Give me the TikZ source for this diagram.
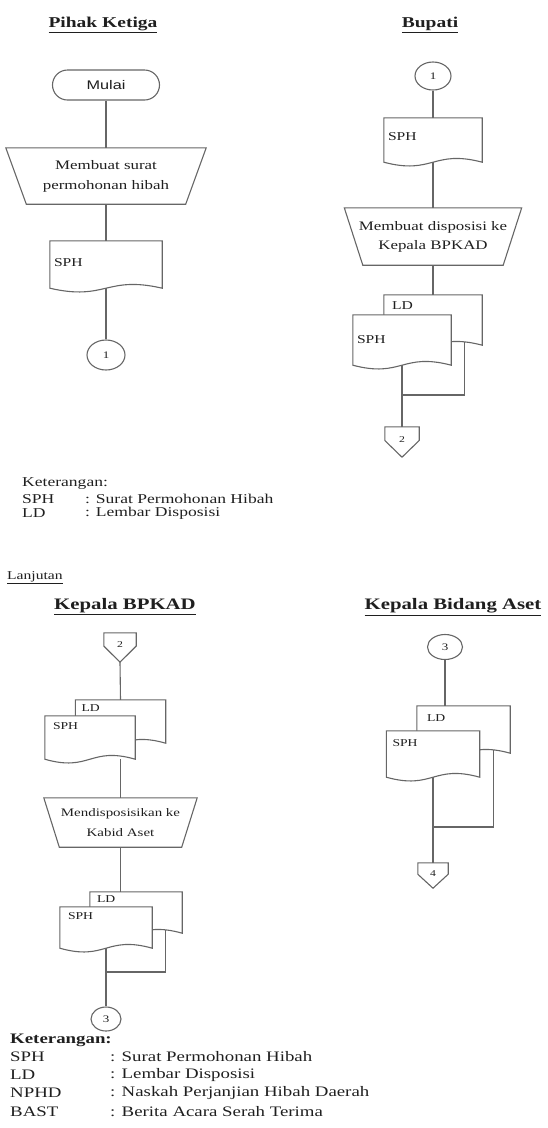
\documentclass[tikz,border=0pt]{standalone}
\usepackage{fontspec}
\setmainfont{Liberation Serif}[FakeStretch=1.3]
\setsansfont{Liberation Sans}[FakeStretch=1.3]
\usetikzlibrary{calc,shapes.geometric}
\definecolor{linec}{gray}{0.40}
\definecolor{txtc}{gray}{0.12}

% dokumen: persegi dengan tepi bawah bergelombang
\newcommand{\docshape}[1]{%
  \draw[flow,fill=white] (#1.south west) .. controls ($(#1.south)+(0,-13)$) and ($(#1.south)+(0,13)$) .. (#1.south east) coordinate[pos=0.86] (#1-tail) -- (#1.north east) -- (#1.north west) -- cycle;}
% off-page connector
\newcommand{\offpage}[1]{%
  \draw[flow] (#1.north west) -- (#1.north east) -- ($(#1.north east)!0.45!(#1.south east)$) -- (#1.south) -- ($(#1.north west)!0.45!(#1.south west)$) -- cycle;}
% manual operation (trapesium)
\newcommand{\manop}[2]{%
  \draw[flow] (#1.north west) -- (#1.north east) -- ($(#1.south east)+(-#2,0)$) -- ($(#1.south west)+(#2,0)$) -- cycle;}

\tikzset{
  flow/.style={draw=linec,line width=1.1pt},
  ttl/.style={text=txtc,font=\bfseries\fontsize{15}{18}\selectfont},
  ttlb/.style={text=txtc,font=\bfseries\fontsize{16}{19}\selectfont},
  term/.style={flow,rounded corners=15pt,minimum width=107pt,minimum height=30pt,text=txtc,font=\sffamily\fontsize{12.5}{14}\selectfont},
  box/.style={inner sep=0pt,align=center,text=txtc},
  offbox/.style={box,font=\fontsize{9}{10}\selectfont},
  conn/.style={flow,ellipse,inner sep=0pt,text=txtc,font=\fontsize{10}{12}\selectfont},
  doctext/.style={anchor=west,inner sep=0pt,text=txtc},
  leg/.style={anchor=west,inner sep=0pt,text=txtc},
}

\begin{document}
\begin{tikzpicture}[x=1pt,y=1pt]
  \useasboundingbox (0,0) rectangle (547,-1128);
  % ===== Pihak Ketiga =====
  \node[ttl] (pk-title) at (103,-25){\underline{Pihak Ketiga}};
  \node[term] (pk-mulai) at (106,-85){Mulai};
  \node[box,minimum width=200pt,minimum height=56pt,font=\fontsize{13}{20}\selectfont] (pk-trap) at (106,-176){Membuat surat\\permohonan hibah};
  \manop{pk-trap}{20.5}
  \node[box,minimum width=112pt,minimum height=47pt] (pk-sph) at (106,-264.5){};
  \docshape{pk-sph}
  \node[doctext,font=\fontsize{12}{14}\selectfont] (pk-spht) at ($(pk-sph.north west)+(4,-22)$){SPH};
  \node[conn,minimum width=38pt,minimum height=30pt] (pk-c1) at (106,-355){1};
  \draw[flow] (pk-mulai.south) -- (pk-trap.north);
  \draw[flow] (pk-trap.south) -- (pk-sph.north);
  \draw[flow] (pk-sph.south) -- (pk-c1.north);

  % ===== Bupati =====
  \node[ttl] (bp-title) at (430,-25){\underline{Bupati}};
  \node[conn,minimum width=36pt,minimum height=28pt] (bp-c1) at (433,-76){1};
  \node[box,minimum width=98pt,minimum height=44pt] (bp-sph) at (433,-140){};
  \docshape{bp-sph}
  \node[doctext,font=\fontsize{12}{14}\selectfont] (bp-spht) at ($(bp-sph.north west)+(4,-19)$){SPH};
  \node[box,minimum width=177pt,minimum height=57pt,font=\fontsize{13}{19}\selectfont] (bp-trap) at (433,-236.5){Membuat disposisi ke\\Kepala BPKAD};
  \manop{bp-trap}{18.5}
  \node[box,minimum width=98pt,minimum height=50pt] (bp-ld) at (433,-320){};
  \docshape{bp-ld}
  \node[box,minimum width=98pt,minimum height=50pt] (bp-sph2) at (402,-340){};
  \docshape{bp-sph2}
  \node[doctext,font=\fontsize{12}{14}\selectfont] (bp-ldt) at ($(bp-ld.north west)+(8,-11)$){LD};
  \node[doctext,font=\fontsize{12}{14}\selectfont] (bp-sph2t) at ($(bp-sph2.north west)+(4,-25)$){SPH};
  \coordinate (bp-j) at (402,-395);
  \node[offbox,minimum width=34pt,minimum height=30pt] (bp-off) at (402,-442){\raisebox{5pt}{2}};
  \offpage{bp-off}
  \draw[flow] (bp-c1.south) -- (bp-sph.north);
  \draw[flow] (bp-sph.south) -- (bp-trap.north);
  \draw[flow] (bp-trap.south) -- (bp-ld.north);
  \draw[flow] (bp-sph2.south) -- (bp-j) -- (bp-off.north);
  \draw[flow] (bp-ld-tail) |- (bp-j);

  % keterangan (atas)
  \node[leg,font=\fontsize{13.5}{15}\selectfont] (k1-head) at (22,-484){Keterangan:};
  \node[leg,font=\fontsize{13.5}{15}\selectfont] (k1-sph) at (22,-499){SPH};
  \node[leg,font=\fontsize{13.5}{15}\selectfont] (k1-sphd) at (85,-499){: Surat Permohonan Hibah};
  \node[leg,font=\fontsize{13.5}{15}\selectfont] (k1-ld) at (22,-513){LD};
  \node[leg,font=\fontsize{13.5}{15}\selectfont] (k1-ldd) at (85,-513){: Lembar Disposisi};

  \node[leg,font=\fontsize{12}{14}\selectfont] (lanjut) at (7,-578){\underline{Lanjutan}};

  % ===== Kepala BPKAD =====
  \node[ttlb] (kb-title) at (125,-607){\underline{Kepala BPKAD}};
  \node[offbox,minimum width=32pt,minimum height=29pt] (kb-off) at (120,-647.5){\raisebox{5pt}{2}};
  \offpage{kb-off}
  \node[box,minimum width=90pt,minimum height=43pt] (kb-ld) at (120.5,-721.5){};
  \docshape{kb-ld}
  \node[box,minimum width=90pt,minimum height=43pt] (kb-sph) at (90,-737.5){};
  \docshape{kb-sph}
  \node[doctext,font=\fontsize{10.5}{12}\selectfont] (kb-ldt) at ($(kb-ld.north west)+(6,-8)$){LD};
  \node[doctext,font=\fontsize{10.5}{12}\selectfont] (kb-spht) at ($(kb-sph.north west)+(8,-10)$){SPH};
  \node[box,minimum width=153pt,minimum height=49pt,font=\fontsize{11.5}{20}\selectfont] (kb-trap) at (120.5,-822.5){Mendisposisikan ke\\Kabid Aset};
  \manop{kb-trap}{15.5}
  \node[box,minimum width=92pt,minimum height=41pt] (kb-ld2) at (136,-912.5){};
  \docshape{kb-ld2}
  \node[box,minimum width=92pt,minimum height=41pt] (kb-sph2) at (106,-927.5){};
  \docshape{kb-sph2}
  \node[doctext,font=\fontsize{10.5}{12}\selectfont] (kb-ld2t) at ($(kb-ld2.north west)+(7,-7)$){LD};
  \node[doctext,font=\fontsize{10.5}{12}\selectfont] (kb-sph2t) at ($(kb-sph2.north west)+(8,-9)$){SPH};
  \coordinate (kb-j) at (106,-972);
  \node[conn,minimum width=30pt,minimum height=24pt] (kb-c3) at (106,-1019){3};
  \draw[flow] (kb-off.south) -- (kb-ld.north);
  \draw[flow] (kb-trap.north |- kb-sph.south) -- (kb-trap.north);
  \draw[flow] (kb-trap.south) -- (kb-trap.south |- kb-ld2.north);
  \draw[flow] (kb-sph2.south) -- (kb-j) -- (kb-c3.north);
  \draw[flow] (kb-ld2-tail) |- (kb-j);

  % ===== Kepala Bidang Aset =====
  \node[ttlb] (ka-title) at (453,-607){\underline{Kepala Bidang Aset}};
  \node[conn,minimum width=35pt,minimum height=25pt] (ka-c3) at (445,-647){3};
  \node[box,minimum width=93pt,minimum height=47pt] (ka-ld) at (463.5,-729.5){};
  \docshape{ka-ld}
  \node[box,minimum width=93pt,minimum height=46pt] (ka-sph) at (433,-754){};
  \docshape{ka-sph}
  \node[doctext,font=\fontsize{10.5}{12}\selectfont] (ka-ldt) at ($(ka-ld.north west)+(10,-12)$){LD};
  \node[doctext,font=\fontsize{10.5}{12}\selectfont] (ka-spht) at ($(ka-sph.north west)+(6,-12)$){SPH};
  \coordinate (ka-j) at (433,-827);
  \node[offbox,minimum width=30pt,minimum height=25pt] (ka-off) at (433,-875.5){\raisebox{4pt}{4}};
  \offpage{ka-off}
  \draw[flow] (ka-c3.south) -- (ka-c3.south |- ka-ld.north);
  \draw[flow] (ka-sph.south) -- (ka-j) -- (ka-off.north);
  \draw[flow] (ka-ld-tail) |- (ka-j);

  % keterangan (bawah)
  \node[leg,font=\bfseries\fontsize{14.5}{17}\selectfont] (k2-head) at (10,-1040){Keterangan:};
  \node[leg,font=\fontsize{14.5}{17}\selectfont] (k2-sph) at (10,-1057){SPH};
  \node[leg,font=\fontsize{14.5}{17}\selectfont] (k2-sphd) at (110,-1057){: Surat Permohonan Hibah};
  \node[leg,font=\fontsize{14.5}{17}\selectfont] (k2-ld) at (10,-1075){LD};
  \node[leg,font=\fontsize{14.5}{17}\selectfont] (k2-ldd) at (110,-1075){: Lembar Disposisi};
  \node[leg,font=\fontsize{14.5}{17}\selectfont] (k2-nphd) at (10,-1093){NPHD};
  \node[leg,font=\fontsize{14.5}{17}\selectfont] (k2-nphdd) at (110,-1093){: Naskah Perjanjian Hibah Daerah};
  \node[leg,font=\fontsize{14.5}{17}\selectfont] (k2-bast) at (10,-1112){BAST};
  \node[leg,font=\fontsize{14.5}{17}\selectfont] (k2-bastd) at (110,-1112){: Berita Acara Serah Terima};
\end{tikzpicture}
\end{document}
